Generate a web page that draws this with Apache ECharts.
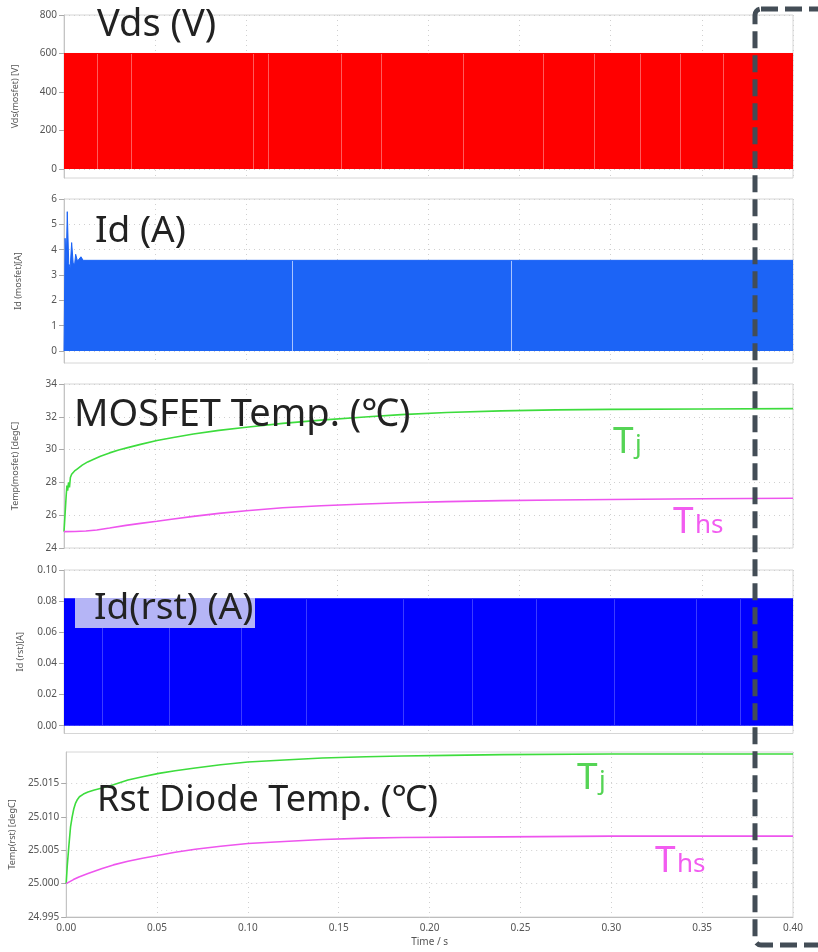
<!DOCTYPE html>
<html lang="en">
  <head>
    <meta charset="UTF-8" />
    <script
      type="text/javascript"
      src="https://cdn.jsdelivr.net/npm/echarts@6.0.0/dist/echarts.min.js"
    ></script>
    <style>
      html,
      body {
        margin: 0;
        overflow: hidden;
        background: #fff;
      }
      #viewport {
        position: absolute;
        left: 0px;
        top: 0px;
        width: 818px;
        height: 952px;
      }
    </style>
  </head>
  <body>
    <div id="viewport"></div>
    <script>
      // values (time in s)
      var vdsEnvelope = [[0, 600], [0.4, 600]];
      var vdsStreaks = [0.018, 0.037, 0.104, 0.112, 0.152, 0.174, 0.219, 0.263, 0.291, 0.316, 0.338, 0.362];

      var idEnvelope = [
        [0, 0], [0.0006, 4.45], [0.0012, 3.4], [0.0018, 5.5], [0.0026, 3.45],
        [0.0034, 3.3], [0.0042, 4.28], [0.005, 3.5], [0.0058, 3.4], [0.0064, 3.82],
        [0.0074, 3.55], [0.0093, 3.72], [0.0105, 3.58], [0.4, 3.58]
      ];
      var idStreaks = [0.1253, 0.2456];

      var tjMosfet = [
        [0, 25.0], [0.0012, 27.2], [0.0016, 27.8], [0.002, 27.5], [0.0025, 28.0],
        [0.003, 27.7], [0.0035, 28.3], [0.0042, 28.5], [0.005, 28.4], [0.0058, 28.7],
        [0.007, 28.8], [0.01, 29.05], [0.013, 29.25], [0.016, 29.4], [0.02, 29.6],
        [0.025, 29.8], [0.03, 29.97], [0.035, 30.12], [0.042, 30.32], [0.051, 30.55],
        [0.06, 30.74], [0.071, 30.95], [0.085, 31.17], [0.1, 31.36], [0.12, 31.6],
        [0.141, 31.8], [0.165, 31.99], [0.185, 32.13], [0.21, 32.26], [0.24, 32.36],
        [0.27, 32.42], [0.3, 32.45], [0.35, 32.48], [0.4, 32.5]
      ];
      var thsMosfet = [
        [0, 25.0], [0.006, 25.01], [0.012, 25.04], [0.018, 25.1], [0.025, 25.22],
        [0.034, 25.38], [0.042, 25.5], [0.051, 25.63], [0.06, 25.77], [0.071, 25.93],
        [0.085, 26.11], [0.1, 26.27], [0.12, 26.45], [0.141, 26.58], [0.165, 26.68],
        [0.185, 26.76], [0.21, 26.83], [0.24, 26.89], [0.27, 26.93], [0.3, 26.96],
        [0.35, 27.0], [0.4, 27.03]
      ];

      var idRstEnvelope = [[0, 0.0815], [0.4, 0.0815]];
      var idRstStreaks = [0.021, 0.058, 0.097, 0.133, 0.186, 0.224, 0.259, 0.302, 0.347, 0.371];

      var tjRst = [
        [0, 25.0], [0.0006, 25.0027], [0.0015, 25.0057], [0.0024, 25.0085],
        [0.0033, 25.01], [0.0042, 25.0112], [0.0051, 25.012], [0.0062, 25.0126],
        [0.0073, 25.013], [0.0095, 25.0134], [0.012, 25.0137], [0.0155, 25.014],
        [0.0198, 25.0143], [0.026, 25.0148], [0.034, 25.0155], [0.042, 25.016],
        [0.051, 25.0165], [0.06, 25.0169], [0.071, 25.0173], [0.085, 25.0178],
        [0.1, 25.0182], [0.12, 25.0185], [0.141, 25.0188], [0.165, 25.019],
        [0.185, 25.0191], [0.21, 25.0192], [0.24, 25.0193], [0.3, 25.0194], [0.4, 25.0194]
      ];
      var thsRst = [
        [0, 25.0], [0.004, 25.0006], [0.007, 25.001], [0.012, 25.0015], [0.0198, 25.00225],
        [0.026, 25.0028], [0.034, 25.00335], [0.042, 25.0038], [0.051, 25.00425],
        [0.06, 25.0047], [0.071, 25.00515], [0.085, 25.0056], [0.1, 25.006],
        [0.12, 25.0063], [0.141, 25.0066], [0.165, 25.0068], [0.185, 25.0069],
        [0.24, 25.007], [0.3, 25.0071], [0.4, 25.0071]
      ];

      var vdsTicks = [0, 200, 400, 600, 800];
      var idTicks = [0, 1, 2, 3, 4, 5, 6];
      var tempMosfetTicks = [24, 26, 28, 30, 32, 34];
      var idRstTicks = [0, 0.02, 0.04, 0.06, 0.08, 0.1];
      var tempRstTicks = [24.995, 25.0, 25.005, 25.01, 25.015];

      var FONT = 'Noto Sans';
      var GREEN = '#3ddc3d';
      var MAGENTA = '#ee55ee';

      var panels = [
        { top: 15, height: 163, min: -47, max: 800, name: 'Vds(mosfet) [V]', gap: 44, ticks: vdsTicks, digits: 0 },
        { top: 199, height: 164, min: -0.47, max: 6, name: 'Id (mosfet)[A]', gap: 41, ticks: idTicks, digits: 0 },
        { top: 384, height: 164, min: 24, max: 34, name: 'Temp(mosfet) [degC]', gap: 44, ticks: tempMosfetTicks, digits: 0 },
        { top: 570, height: 163.5, min: -0.005, max: 0.1, name: 'Id (rst)[A]', gap: 39, ticks: idRstTicks, digits: 2 },
        { top: 752, height: 165, min: 24.995, max: 25.0197, name: 'Temp(rst) [degC]', gap: 40, ticks: tempRstTicks, digits: 3 }
      ];

      var grids = [], xAxes = [], yAxes = [];
      panels.forEach(function (p, i) {
        var last = i === panels.length - 1;
        grids.push({
          left: 64, width: 729, top: p.top, height: p.height,
          show: true, borderColor: '#d6d6d6', borderWidth: 1
        });
        xAxes.push({
          gridIndex: i, type: 'value', min: 0, max: 0.4, interval: 0.05,
          axisLine: { show: last, onZero: false, lineStyle: { color: '#bdbdbd' } },
          axisTick: { show: false },
          axisLabel: {
            show: last, color: '#555', fontSize: 10, fontFamily: FONT, margin: 6,
            formatter: function (v) { return v.toFixed(2); }
          },
          splitLine: { show: true, lineStyle: { color: '#d0d0d0', type: [1, 4] } },
          name: last ? 'Time / s' : '', nameLocation: 'middle', nameGap: 20,
          nameTextStyle: { color: '#555', fontSize: 10, fontFamily: FONT }
        });
        yAxes.push({
          gridIndex: i, type: 'value', min: p.min, max: p.max,
          name: p.name, nameLocation: 'middle', nameGap: p.gap,
          nameTextStyle: { color: '#555', fontSize: 9, fontFamily: FONT },
          axisLine: { show: true, lineStyle: { color: '#c4c4c4' } },
          axisTick: { show: true, length: 5, customValues: p.ticks, lineStyle: { color: '#aaa' } },
          axisLabel: {
            customValues: p.ticks, color: '#555', fontSize: 10, fontFamily: FONT, margin: 7,
            formatter: (function (d) { return function (v) { return (+v).toFixed(d); }; })(p.digits)
          },
          splitLine: { show: true, lineStyle: { color: '#d0d0d0', type: [1, 4] } }
        });
      });

      function area(idx, data, color) {
        return {
          type: 'line', xAxisIndex: idx, yAxisIndex: idx, data: data,
          symbol: 'none', lineStyle: { color: color, width: 1 },
          areaStyle: { color: color, opacity: 1 }, silent: true
        };
      }
      function streaks(idx, list, top, color) {
        return {
          type: 'lines', coordinateSystem: 'cartesian2d', xAxisIndex: idx, yAxisIndex: idx,
          data: list.map(function (t) { return { coords: [[t, 0], [t, top]] }; }),
          lineStyle: { color: color, width: 1, opacity: 1 }, silent: true, z: 3
        };
      }
      function curve(idx, data, color) {
        return {
          type: 'line', xAxisIndex: idx, yAxisIndex: idx, data: data,
          symbol: 'none', smooth: false,
          lineStyle: { color: color, width: 1.6 }, silent: true
        };
      }

      var series = [
        area(0, vdsEnvelope, '#ff0000'),
        streaks(0, vdsStreaks, 600, '#ff5c5c'),
        area(1, idEnvelope, '#1c64f6'),
        streaks(1, idStreaks, 3.58, '#a9c4ff'),
        curve(2, tjMosfet, GREEN),
        curve(2, thsMosfet, MAGENTA),
        area(3, idRstEnvelope, '#0000ff'),
        streaks(3, idRstStreaks, 0.0815, '#3c3cff'),
        curve(4, tjRst, GREEN),
        curve(4, thsRst, MAGENTA)
      ];

      function label(text, x, y, size, color) {
        return {
          type: 'text', x: x, y: y, z: 100,
          style: { text: text, fill: color || '#222', font: size + 'px "' + FONT + '"', verticalAlign: 'middle' }
        };
      }

      var graphics = [
        label('Vds (V)', 97, 25, 38),
        label('Id (A)', 95, 231, 37),
        label('MOSFET Temp. (\u2103)', 74, 415, 38),
        { type: 'rect', z: 99, shape: { x: 75, y: 598, width: 180, height: 30 }, style: { fill: '#b5b5f6' } },
        label('Id(rst) (A)', 94, 608, 37),
        label('Rst Diode Temp. (\u2103)', 97, 801, 36),
        label('T', 613, 442, 37, '#55d455'),
        label('j', 635, 446, 26, '#55d455'),
        label('T', 673, 522, 37, '#f25cf0'),
        label('hs', 695, 526, 26, '#f25cf0'),
        label('T', 577, 778, 37, '#55d455'),
        label('j', 599, 782, 26, '#55d455'),
        label('T', 655, 861, 37, '#f25cf0'),
        label('hs', 677, 865, 26, '#f25cf0'),
        {
          type: 'rect', z: 101,
          shape: { x: 755, y: 9, width: 120, height: 936, r: [6, 0, 0, 6] },
          style: { fill: null, stroke: '#434d56', lineWidth: 5, lineDash: [17, 7] }
        }
      ];

      var myChart = echarts.init(document.getElementById('viewport'));
      myChart.setOption({
        animation: false,
        backgroundColor: '#fff',
        grid: grids,
        xAxis: xAxes,
        yAxis: yAxes,
        series: series,
        graphic: graphics
      });
    </script>
  </body>
</html>
